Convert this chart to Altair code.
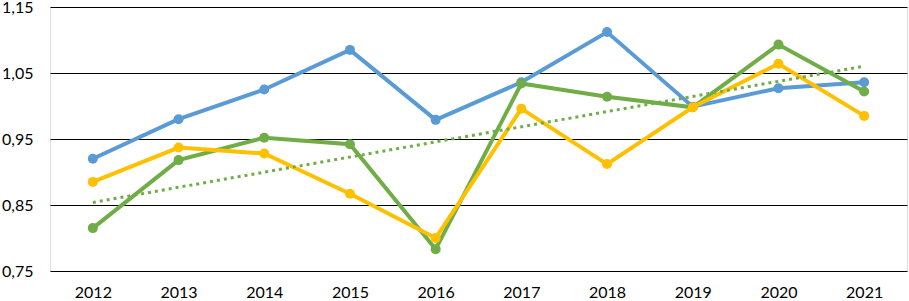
import altair as alt
import pandas as pd

years = [2012, 2013, 2014, 2015, 2016, 2017, 2018, 2019, 2020, 2021]
blue_vals = [0.920, 0.980, 1.025, 1.085, 0.979, 1.036, 1.112, 0.999, 1.027, 1.036]
green_vals = [0.815, 0.918, 0.952, 0.942, 0.783, 1.034, 1.014, 0.998, 1.093, 1.022]
yellow_vals = [0.885, 0.937, 0.928, 0.867, 0.800, 0.996, 0.912, 0.998, 1.064, 0.985]
y_ticks = [0.75, 0.85, 0.95, 1.05, 1.15]

series = [("Ряд1", blue_vals, "#5B9BD5"),
          ("Ряд2", green_vals, "#70AD47"),
          ("Ряд3", yellow_vals, "#FFC000")]

rows = []
for name, vals, _ in series:
    for yr, v in zip(years, vals):
        rows.append({"year": yr, "series": name, "value": v})
df = pd.DataFrame(rows)

x_enc = alt.X("year:O", title=None,
              axis=alt.Axis(labelAngle=0, ticks=False, domain=False, grid=False,
                            labelPadding=13, labelFontSize=16, labelFont="Lato",
                            labelColor="#000000"))
y_enc = alt.Y("value:Q", title=None,
              scale=alt.Scale(domain=[0.75, 1.15], nice=False, zero=False),
              axis=alt.Axis(values=y_ticks, ticks=False, domain=False, grid=True,
                            gridColor="#000000", gridWidth=1.2,
                            labelExpr="replace(format(datum.value, '.2f'), '.', ',')",
                            labelPadding=17, labelFontSize=16, labelFont="Lato",
                            labelColor="#000000"))

base = alt.Chart(df)
layers = []
for name, _, color in series:
    sub = base.transform_filter(alt.datum.series == name)
    layers.append(sub.mark_line(color=color, strokeWidth=4).encode(x=x_enc, y=y_enc))
    layers.append(sub.mark_point(color=color, filled=True, size=100, opacity=1).encode(x=x_enc, y=y_enc))

trend = (base.transform_filter(alt.datum.series == "Ряд2")
         .transform_regression("year", "value")
         .mark_line(color="#70AD47", strokeWidth=3, strokeDash=[3, 4])
         .encode(x=x_enc, y=y_enc))
layers.append(trend)

chart = (alt.layer(*layers)
         .properties(width=857, height=264,
                     autosize=alt.AutoSizeParams(type="none"),
                     padding={"left": 50, "top": 7, "right": 2, "bottom": 30})
         .configure_view(stroke="#000000", strokeWidth=1.5)
         .configure(background="white"))

chart.save("out.html", embed_options={"renderer": "svg", "actions": False})
